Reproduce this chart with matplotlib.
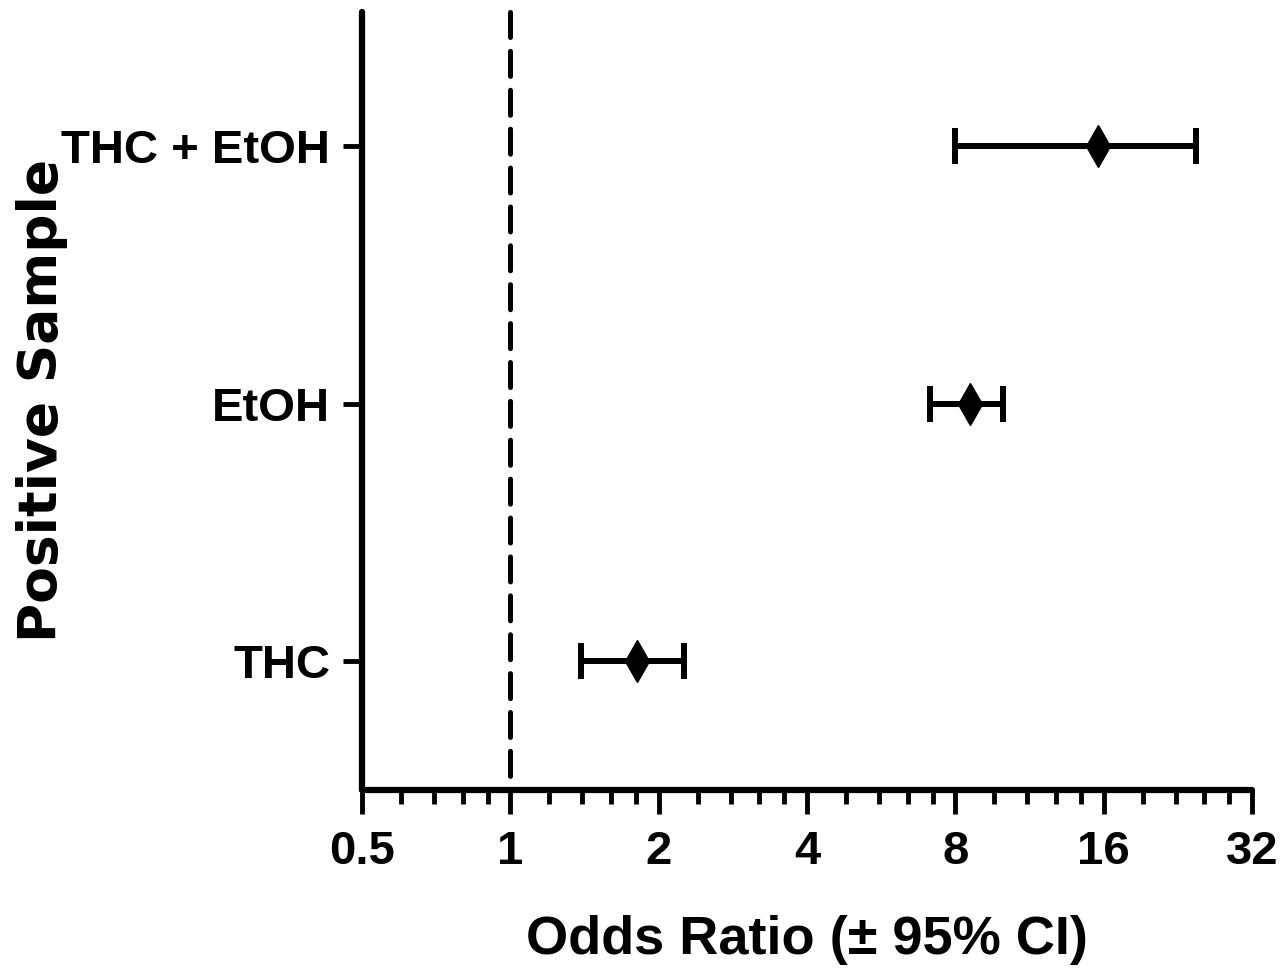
import matplotlib
matplotlib.use('Agg')
import matplotlib.pyplot as plt
from matplotlib.ticker import FixedLocator, NullFormatter

# ---- data ----
categories = ['THC', 'EtOH', 'THC + EtOH']
odds_ratio = [1.81, 8.57, 15.6]
ci_lower = [1.39, 7.11, 8.0]
ci_upper = [2.25, 10.0, 24.6]
x_ticks = [0.5, 1, 2, 4, 8, 16, 32]
x_tick_labels = ['0.5', '1', '2', '4', '8', '16', '32']
reference_line = 1
x_label = 'Odds Ratio (± 95% CI)'
y_label = 'Positive Sample'

plt.rcParams['lines.scale_dashes'] = False
narrow = ['Liberation Sans', 'DejaVu Sans']

fig = plt.figure(figsize=(12.83, 9.74), dpi=100)
ax = fig.add_axes([362 / 1283, 1 - 790 / 974, (1252 - 362) / 1283, (790 - 12) / 974])

ypos = list(range(1, len(categories) + 1))
ylo, yhi = 0.5, 3.52

ax.set_xscale('log', base=2)
ax.set_xlim(x_ticks[0], x_ticks[-1])
ax.set_ylim(ylo, yhi)

# reference dashed line
ax.plot([reference_line, reference_line], [yhi, ylo], color='black', lw=3.6,
        dashes=(18, 10), dash_capstyle='round', zorder=1, clip_on=False)

xerr = [[o - l for o, l in zip(odds_ratio, ci_lower)],
        [u - o for o, u in zip(odds_ratio, ci_upper)]]
ax.errorbar(odds_ratio, ypos, xerr=xerr, fmt='d', color='black', ms=21,
            mfc='black', mec='black', elinewidth=4.3, capsize=13.3, capthick=4.3,
            zorder=3)

# spines
for s in ['top', 'right']:
    ax.spines[s].set_visible(False)
for s in ['left', 'bottom']:
    ax.spines[s].set_linewidth(4.5)
    ax.spines[s].set_capstyle('round')

ax.set_xticks(x_ticks)
ax.set_xticklabels(x_tick_labels)
minor = [t * f for t in x_ticks[:-1] for f in (1.2, 1.4, 1.6, 1.8)]
ax.xaxis.set_minor_locator(FixedLocator(minor))
ax.xaxis.set_minor_formatter(NullFormatter())
ax.tick_params(axis='x', which='major', length=17, width=3.5, pad=12)
ax.tick_params(axis='x', which='minor', length=10, width=3.5)
ax.set_yticks(ypos)
ax.set_yticklabels(categories)
ax.tick_params(axis='y', which='major', length=14, width=3.5, pad=9)
ax.tick_params(axis='y', which='minor', left=False)

for lab in ax.get_xticklabels() + ax.get_yticklabels():
    lab.set_fontfamily(narrow)
    lab.set_fontweight('bold')
    lab.set_fontsize(34)

fig.text(807 / 1283, 1 - 940 / 974, x_label, ha='center', va='center',
         fontsize=39, fontweight='bold', family=narrow)
fig.text(42 / 1283, 1 - 400 / 974, y_label, ha='center', va='center', rotation=90,
         fontsize=38.5, fontweight='bold', family=['DejaVu Sans'])

fig.savefig('out.png', dpi=100)
